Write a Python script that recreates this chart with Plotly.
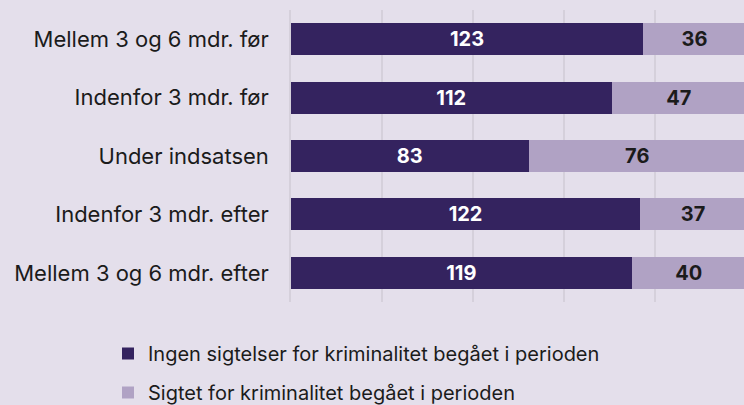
import plotly.graph_objects as go

categories = ["Mellem 3 og 6 mdr. før", "Indenfor 3 mdr. før", "Under indsatsen",
              "Indenfor 3 mdr. efter", "Mellem 3 og 6 mdr. efter"]
ingen = [123, 112, 83, 122, 119]
sigtet = [36, 47, 76, 37, 40]
series_names = ["Ingen sigtelser for kriminalitet begået i perioden",
                "Sigtet for kriminalitet begået i perioden"]

total = max(a + b for a, b in zip(ingen, sigtet))
FONT = "Inter"
BG = "#e4dfeb"

fig = go.Figure()
fig.add_trace(go.Bar(
    y=categories, x=ingen, orientation="h", name=series_names[0],
    marker=dict(color="#34235f", line=dict(width=0)),
    text=[str(v) for v in ingen], textposition="inside", insidetextanchor="middle",
    textfont=dict(color="white", size=20, family=FONT, weight="bold"),
    legendgroup="a",
))
fig.add_trace(go.Bar(
    y=categories, x=sigtet, orientation="h", name=series_names[1],
    marker=dict(color="#b0a2c4", line=dict(width=0)),
    text=[str(v) for v in sigtet], textposition="inside", insidetextanchor="middle",
    textfont=dict(color="#1b1b1b", size=20, family=FONT, weight="bold"),
    legendgroup="b",
))

ticks = [total * f for f in (0.2, 0.4, 0.6, 0.8, 1.0)]
fig.update_layout(
    template="none",
    width=744, height=405,
    barmode="stack", bargap=0.45,
    paper_bgcolor=BG, plot_bgcolor=BG,
    margin=dict(l=291, r=0, t=10, b=103, pad=0, autoexpand=False),
    font=dict(family=FONT, size=20, color="#1b1b1b"),
    xaxis=dict(range=[0, total * 453 / 455], tickvals=ticks, showticklabels=False,
               showgrid=True, gridcolor="#d5d0db", gridwidth=1.5, zeroline=False,
               showline=False, automargin=False, ticks=""),
    yaxis=dict(autorange="reversed", showline=True, linecolor="#d5d0db", linewidth=1.5,
               ticks="", ticklabelstandoff=16, tickfont=dict(size=22, family=FONT),
               showgrid=False, zeroline=False, automargin=False),
    showlegend=True,
    legend=dict(x=(108 - 291) / 453, y=(302 - 334) / 292, yanchor="top",
                xanchor="left", traceorder="grouped", tracegroupgap=10,
                font=dict(size=20, family=FONT), bgcolor="rgba(0,0,0,0)",
                itemwidth=30),
)

fig.write_html("out.html", config={"displayModeBar": False},
               post_script="document.body.style.margin='0';")
